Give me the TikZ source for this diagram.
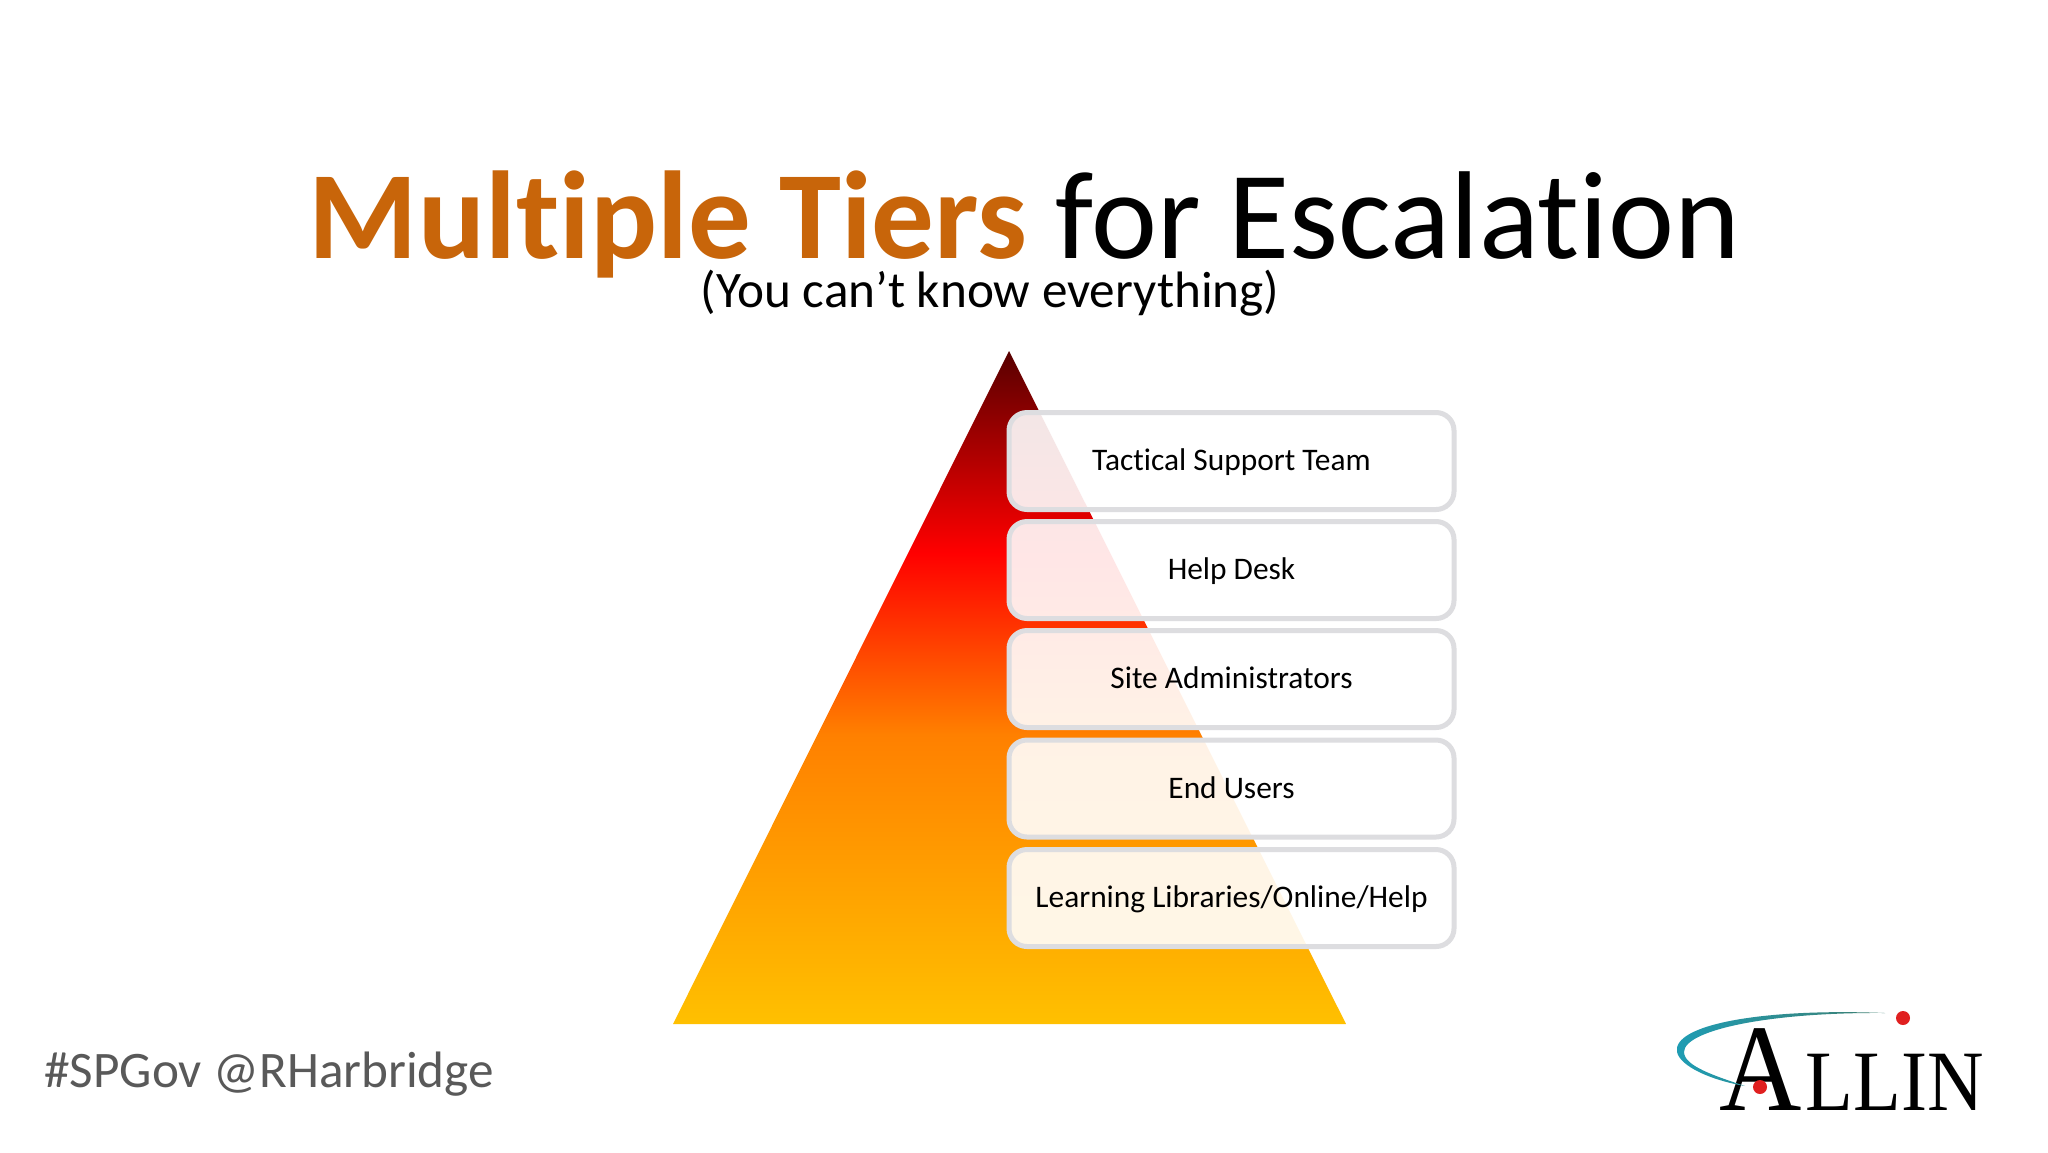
\documentclass[tikz,border=0pt]{standalone}
\usepackage{graphicx}
\usepackage{fontspec}
\setmainfont[Ligatures={NoCommon}]{Carlito}
\newfontfamily\logofont{Liberation Serif}
\definecolor{titleorange}{HTML}{C8650A}
\definecolor{tagGrey}{HTML}{595959}
\definecolor{boxline}{HTML}{DDDDE0}
\definecolor{pyrA}{HTML}{FFC000}
\definecolor{pyrB}{HTML}{FF8000}
\definecolor{pyrC}{HTML}{FF0000}
\definecolor{pyrD}{HTML}{580000}
\definecolor{swooshL}{HTML}{1E9DB5}
\definecolor{swooshR}{HTML}{3F7F70}
\definecolor{logoRed}{HTML}{E02020}
\pgfdeclareverticalshading{pyrshade}{100bp}{
 color(0bp)=(pyrA);
 color(25bp)=(pyrA);
 color(46.5bp)=(pyrB);
 color(60bp)=(pyrC);
 color(75bp)=(pyrD);
 color(100bp)=(pyrD)}
\tikzset{
 tier/.style={draw=boxline,line width=2.5pt,fill=white,fill opacity=0.9,text opacity=1,
   rounded corners=9pt,minimum width=222.5pt,minimum height=48.5pt,inner sep=0pt,
   text height=13pt,text depth=3.5pt,
   font=\fontsize{15.7pt}{18pt}\selectfont,text=black},
 reddot/.style={circle,fill=logoRed,minimum size=7pt,inner sep=0pt}
}
\begin{document}
\begin{tikzpicture}[x=0.5pt,y=-0.5pt]
\useasboundingbox (0,0) rectangle (2048,1152);
\fill[white] (0,0) rectangle (2048,1152);
% title
\node[anchor=base,inner sep=0pt,font=\fontsize{62.5pt}{66pt}\selectfont] (title) at (1024.5,258)
 {\textcolor{titleorange}{\bfseries Multiple Tiers} for Escalation};
\node[anchor=base,inner sep=0pt,font=\fontsize{25.6pt}{28pt}\selectfont] (sub) at (990,307) {(You can’t know everything)};
% pyramid
\begin{scope}
\clip (1009,351) -- (1346,1024) -- (673,1024) -- cycle;
\shade[shading=pyrshade] (673,351) rectangle (1346,1024);
\end{scope}
\coordinate (apex) at (1009,351);
% tiers
\node[tier] (t1) at (1231.5,461) {Tactical Support Team};
\node[tier] (t2) at (1231.5,570) {Help Desk};
\node[tier] (t3) at (1231.5,679) {Site Administrators};
\node[tier] (t4) at (1231.5,788.5) {End Users};
\node[tier] (t5) at (1231.5,898) {Learning Libraries/Online/Help};
% hashtag
\node[anchor=base west,inner sep=0pt,text=tagGrey,font=\fontsize{25.6pt}{28pt}\selectfont] (tag) at (44,1087) {\#SPGov @RHarbridge};
% logo
\node[anchor=base west,inner sep=0pt,font=\logofont\fontsize{62pt}{62pt}\selectfont] (logoA) at (1719,1110) {\scalebox{0.92}[1]{A}};
\node[anchor=base west,inner sep=0pt,font=\logofont\fontsize{43pt}{43pt}\selectfont] (logoB) at (1805,1110) {\scalebox{0.91}[1]{LLIN}};
\shade[left color=swooshL,right color=swooshR]
  (1885,1013) .. controls (1760,1008) and (1672,1025) .. (1677,1052)
  .. controls (1680,1066) and (1710,1080) .. (1745,1086)
  .. controls (1715,1076) and (1684,1066) .. (1684,1052)
  .. controls (1684,1030) and (1770,1012) .. (1885,1013) -- cycle;
\node[reddot] (dotA) at (1903,1018) {};
\node[reddot] (dotB) at (1760,1087) {};
\end{tikzpicture}
\end{document}
